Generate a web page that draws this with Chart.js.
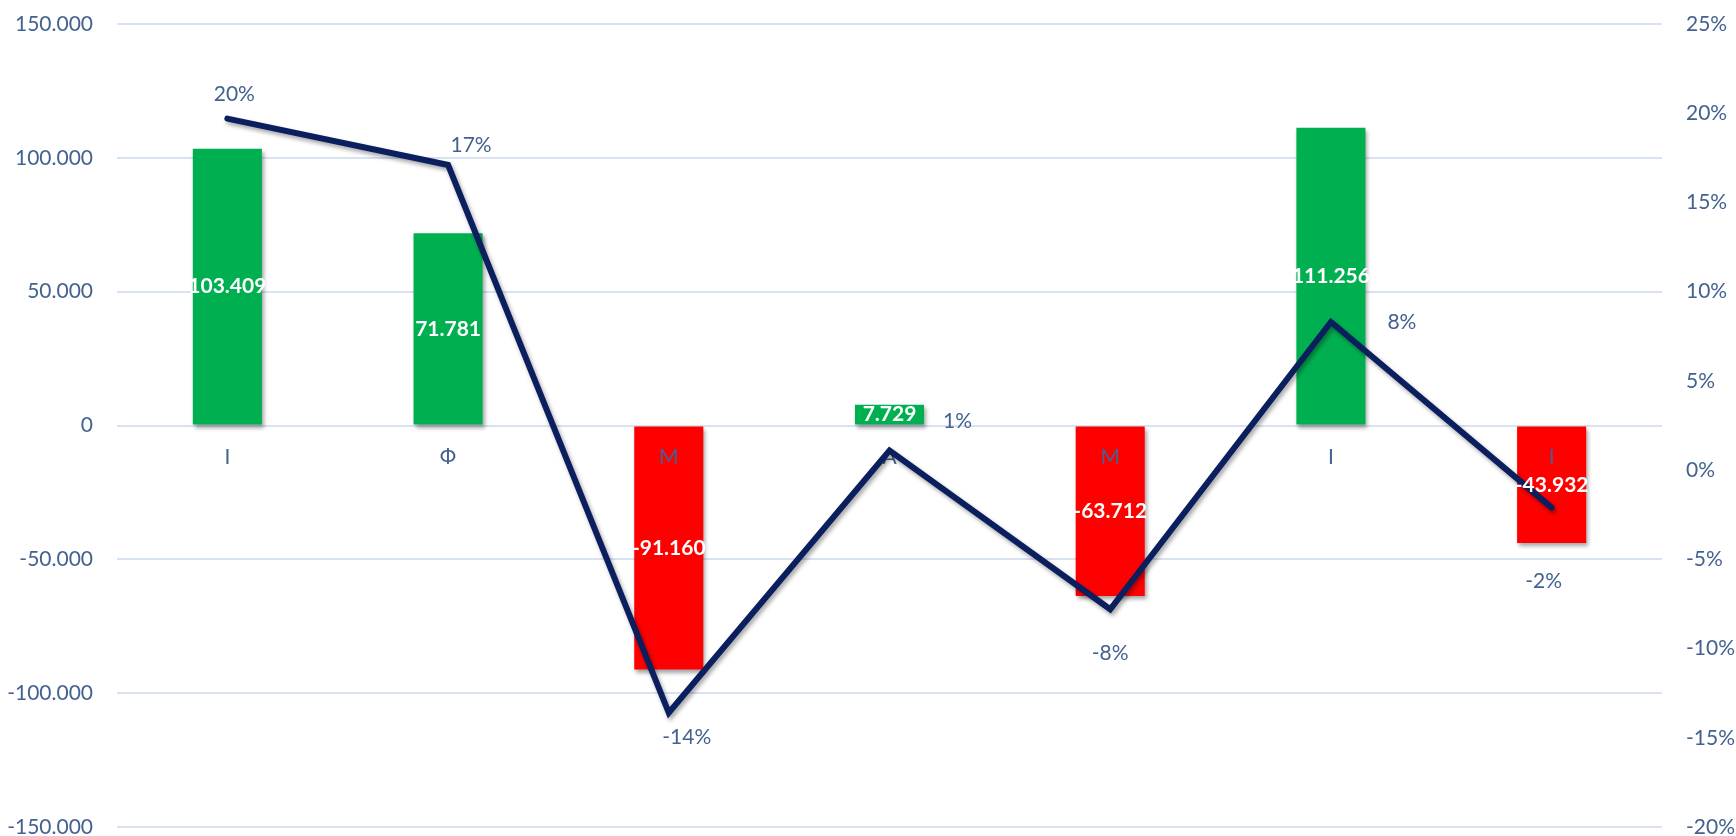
<!DOCTYPE html>
<html>
<head>
<meta charset="utf-8">
<script src="https://cdn.jsdelivr.net/npm/chart.js@4.4.1/dist/chart.umd.min.js"></script>
<style>
  html, body { margin: 0; padding: 0; background: #ffffff; }
  #wrap { width: 1736px; height: 836px; }
</style>
</head>
<body>
<div id="wrap"><canvas id="c" width="1736" height="836"></canvas></div>
<script>
// ---- data ----
const categories = ['І', 'Ф', 'М', 'А', 'М', 'І', 'І'];
const barValues = [103409, 71781, -91160, 7729, -63712, 111256, -43932];
const pctValues = [19.7, 17.1, -13.6, 1.1, -7.8, 8.3, -2.1];
const leftTickMin = -150000, leftTickMax = 150000, leftTickStep = 50000;
const rightTickMin = -20, rightTickMax = 25, rightTickStep = 5;

// ---- styles ----
const FONT = "Lato, 'Open Sans', 'DejaVu Sans', sans-serif";
const TEXT_COLOR = '#44628F';
const GREEN = '#00B050';
const RED = '#FF0000';
const LINE_COLOR = '#0B1F5E';
const GRID_COLOR = '#D9E2F3';
const pctLabelOffsets = [[7, -24], [23, -20], [18, 24], [68, -29], [0, 44], [71, 0], [-8, 74]];

const fmtNum = v => v.toLocaleString('de-DE');

const shadowPlugin = {
  id: 'shadows',
  beforeDatasetDraw(chart, args) {
    const ctx = chart.ctx;
    ctx.save();
    ctx.shadowColor = 'rgba(0,0,0,0.35)';
    ctx.shadowBlur = 4;
    ctx.shadowOffsetX = 2;
    ctx.shadowOffsetY = 3;
  },
  afterDatasetDraw(chart, args) {
    const ctx = chart.ctx;
    ctx.restore();
    if (args.index === 0) {
      // category labels drawn over bars, under the line
      const x = chart.scales.x, y = chart.scales.y;
      const y0 = y.getPixelForValue(0);
      ctx.save();
      ctx.font = '21px ' + FONT;
      ctx.fillStyle = TEXT_COLOR;
      ctx.textAlign = 'center';
      ctx.textBaseline = 'middle';
      categories.forEach((c, i) => {
        ctx.fillText(c, x.getPixelForValue(i), y0 + 32);
      });
      ctx.restore();
    }
  },
  afterDatasetsDraw(chart) {
    const ctx = chart.ctx;
    ctx.save();
    ctx.textAlign = 'center';
    ctx.textBaseline = 'middle';
    // bar value labels
    const barMeta = chart.getDatasetMeta(0);
    ctx.font = 'bold 21px ' + FONT;
    ctx.fillStyle = '#FFFFFF';
    barMeta.data.forEach((bar, i) => {
      const mid = (bar.y + bar.base) / 2;
      ctx.fillText(fmtNum(barValues[i]), bar.x, mid);
    });
    // percentage labels
    const lineMeta = chart.getDatasetMeta(1);
    ctx.font = '21px ' + FONT;
    ctx.fillStyle = TEXT_COLOR;
    lineMeta.data.forEach((pt, i) => {
      const o = pctLabelOffsets[i];
      ctx.fillText(Math.round(pctValues[i]) + '%', pt.x + o[0], pt.y + o[1]);
    });
    ctx.restore();
  }
};

new Chart(document.getElementById('c'), {
  data: {
    labels: categories,
    datasets: [
      {
        type: 'bar',
        data: barValues,
        backgroundColor: barValues.map(v => v >= 0 ? GREEN : RED),
        borderWidth: 0,
        barPercentage: 0.313,
        categoryPercentage: 1,
        yAxisID: 'y',
        order: 2
      },
      {
        type: 'line',
        data: pctValues,
        borderColor: LINE_COLOR,
        borderWidth: 6,
        borderJoinStyle: 'miter',
        borderCapStyle: 'round',
        pointRadius: 0,
        tension: 0,
        fill: false,
        yAxisID: 'y1',
        order: 1
      }
    ]
  },
  plugins: [shadowPlugin],
  options: {
    responsive: false,
    animation: false,
    layout: { padding: { top: 24, bottom: 9, left: 0, right: 0 } },
    plugins: { legend: { display: false }, tooltip: { enabled: false } },
    scales: {
      x: { display: false, offset: true },
      y: {
        position: 'left',
        min: leftTickMin, max: leftTickMax,
        border: { display: false },
        grid: { color: GRID_COLOR, lineWidth: 2, drawTicks: false },
        ticks: {
          stepSize: leftTickStep,
          padding: 24,
          color: TEXT_COLOR,
          font: { family: FONT, size: 21 },
          callback: v => fmtNum(v)
        },
        afterFit(s) { s.width = 117; s.paddingTop = 0; s.paddingBottom = 0; }
      },
      y1: {
        position: 'right',
        min: rightTickMin, max: rightTickMax,
        border: { display: false },
        grid: { display: false, drawTicks: false },
        ticks: {
          stepSize: rightTickStep,
          padding: 24,
          color: TEXT_COLOR,
          font: { family: FONT, size: 21 },
          callback: v => v + '%'
        },
        afterFit(s) { s.width = 74; s.paddingTop = 0; s.paddingBottom = 0; }
      }
    }
  }
});
</script>
</body>
</html>
